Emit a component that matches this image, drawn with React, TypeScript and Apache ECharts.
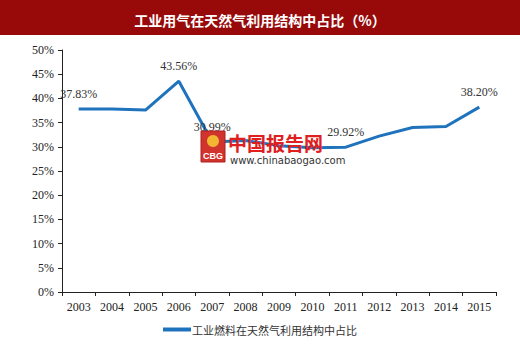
import React, { useEffect, useRef } from "react";
import * as echarts from "echarts";

const years = ["2003", "2004", "2005", "2006", "2007", "2008", "2009", "2010", "2011", "2012", "2013", "2014", "2015"];
const shares = [37.83, 37.8, 37.6, 43.56, 30.99, 31.3, 30.2, 29.8, 29.92, 32.2, 34.0, 34.2, 38.2];
const labelledYears = ["2003", "2006", "2007", "2011", "2015"];
const seriesName = "工业燃料在天然气利用结构中占比";
const titleText = "工业用气在天然气利用结构中占比（%）";

export default function App() {
  const ref = useRef<HTMLDivElement>(null);
  useEffect(() => {
    if (!ref.current) return;
    const chart = echarts.init(ref.current, null, { renderer: "svg" });
    const serif = "'Liberation Serif', 'Times New Roman', 'Noto Sans CJK SC', serif";
    chart.setOption({
      animation: false,
      backgroundColor: "#ffffff",
      title: {
        text: titleText,
        left: "center",
        top: 8,
        textStyle: { color: "#ffffff", fontSize: 14, fontWeight: "bold", fontFamily: "'Noto Sans CJK SC', sans-serif" },
      },
      graphic: [
        { type: "rect", z: -1, shape: { x: 0, y: 0, width: 520, height: 35 }, style: { fill: "#980a0a" } },
        { type: "rect", z: 10, shape: { x: 201, y: 131, width: 24, height: 31 }, style: { fill: "#d0342c", stroke: "#b02020", lineWidth: 1 } },
        { type: "text", z: 11, x: 203, y: 151, style: { text: "CBG", fill: "#ffffff", font: "bold 9px sans-serif" } },
        { type: "circle", z: 11, shape: { cx: 213, cy: 141, r: 6 }, style: { fill: "#f2b632" } },
        { type: "text", z: 10, x: 228, y: 132, style: { text: "中国报告网", fill: "#e02020", font: "bold 19px 'Noto Sans CJK SC', sans-serif", lineHeight: 20 } },
        { type: "text", z: 10, x: 230, y: 155, style: { text: "www.chinabaogao.com", fill: "#333333", font: "10px 'DejaVu Sans', sans-serif", lineHeight: 11 } },
      ],
      legend: {
        bottom: 4,
        left: "center",
        itemWidth: 28,
        itemHeight: 4,
        icon: "rect",
        itemGap: 4,
        data: [seriesName],
        textStyle: { color: "#333333", fontSize: 11, fontFamily: "'Noto Sans CJK SC', serif", padding: [0, 0, 0, -4] },
      },
      grid: { left: 62, right: 24, top: 50, bottom: 52 },
      xAxis: {
        type: "category",
        data: years,
        boundaryGap: true,
        axisLine: { lineStyle: { color: "#222222", width: 1 } },
        axisTick: { show: true, length: 4, lineStyle: { color: "#222222" } },
        axisLabel: { color: "#222222", fontSize: 12, fontFamily: serif, margin: 9 },
      },
      yAxis: {
        type: "value",
        min: 0,
        max: 50,
        interval: 5,
        axisLine: { show: true, lineStyle: { color: "#222222", width: 1 } },
        axisTick: { show: true, length: 4, lineStyle: { color: "#222222" } },
        splitLine: { show: false },
        axisLabel: { color: "#222222", fontSize: 12, fontFamily: serif, formatter: "{value}%", margin: 8 },
      },
      series: [
        {
          name: seriesName,
          type: "line",
          symbol: "circle",
          symbolSize: 0.1,
          showSymbol: true,
          label: {
            show: false,
            position: "top",
            distance: 9,
            formatter: (p: any) => p.value.toFixed(2) + "%",
            color: "#333333",
            fontSize: 12,
            fontFamily: serif,
          },
          data: shares.map((v, i) => ({
            value: v,
            label: { show: labelledYears.includes(years[i]) },
          })),
          lineStyle: { color: "#1f73bd", width: 3 },
          itemStyle: { color: "#1f73bd" },
        },
      ],
    });
    return () => chart.dispose();
  }, []);
  return <div ref={ref} style={{ width: 520, height: 344, position: "absolute", left: 0, top: 0 }} />;
}
